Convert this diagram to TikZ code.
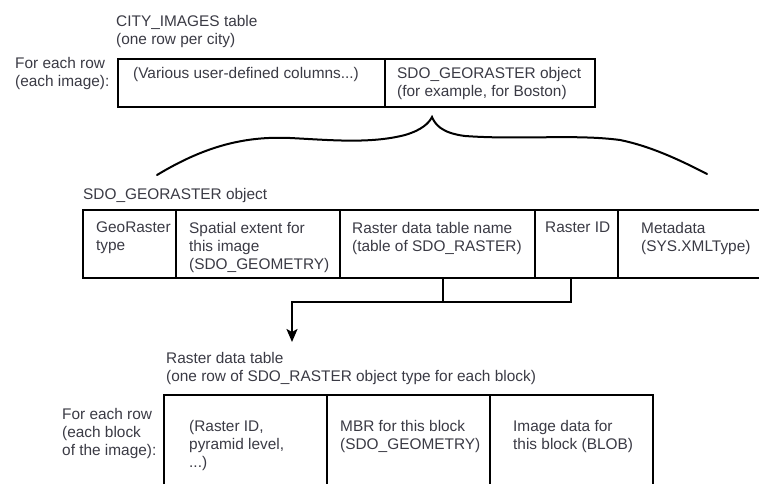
\documentclass[tikz,border=0pt]{standalone}
\usepackage{fontspec}
\setmainfont{Liberation Sans}
\usetikzlibrary{arrows.meta}
\definecolor{txtgray}{RGB}{58,58,68}
\begin{document}
\begin{tikzpicture}[x=1pt,y=-1pt,
  lbl/.style={anchor=north west,inner sep=0pt,align=left,text=txtgray,
    font=\fontsize{15.4}{18}\selectfont},
  tbl/.style={line width=2.8pt,line join=miter},
  wire/.style={line width=2.3pt,line join=miter},
  brace/.style={line width=2pt,line cap=round}]
\useasboundingbox (0,0) rectangle (759,484);

% CITY_IMAGES table
\node[lbl] (citytitle) at (116,15) {CITY\_IMAGES table\\(one row per city)};
\node[lbl] (cityrow) at (15,57) {For each row\\(each image):};
\draw[tbl] (118,59) rectangle (595,107);
\draw[tbl] (385,59) -- (385,107);
\node[lbl] (usercols) at (133,67) {(Various user-defined columns...)};
\node[lbl] (georcol) at (397,67) {SDO\_GEORASTER object\\(for example, for Boston)};

% brace expanding the SDO_GEORASTER column
\coordinate (btip) at (432,117);
\coordinate (bleft) at (157,175);
\coordinate (bright) at (707,174);
\draw[brace] (bleft) .. controls (205,146) and (245,136) .. (290,138)
  .. controls (330,140) and (370,144) .. (405,135)
  .. controls (422,130) and (429,123) .. (btip)
  .. controls (435,124) and (441,133) .. (465,136)
  .. controls (520,140) and (575,134) .. (620,140)
  .. controls (650,146) and (680,160) .. (bright);

% SDO_GEORASTER object
\node[lbl] (geortitle) at (83,188) {SDO\_GEORASTER object};
\draw[tbl] (759,210) -- (83,210) -- (83,278) -- (759,278);
\foreach \x in {176,340,535,618} \draw[tbl] (\x,210) -- (\x,278);
\node[lbl] (grtype) at (96,222) {GeoRaster\\type};
\node[lbl] (extent) at (189,222) {Spatial extent for\\this image\\(SDO\_GEOMETRY)};
\node[lbl] (rdtname) at (352,222) {Raster data table name\\(table of SDO\_RASTER)};
\node[lbl] (rasterid) at (545,222) {Raster ID};
\node[lbl] (meta) at (641,222) {Metadata\\(SYS.XMLType)};

% connector to the raster data table
\coordinate (rnbot) at (443,278);
\coordinate (ridbot) at (571,278);
\coordinate (join) at (443,302);
\coordinate (turn) at (292,302);
\coordinate (arrtip) at (292,342);
\draw[wire] (rnbot) -- (join);
\draw[wire,-{Stealth[length=13pt,width=11pt,inset=3pt]}] (ridbot) |- (turn) -- (arrtip);

% Raster data table
\node[lbl] (rtitle) at (166,352) {Raster data table\\(one row of SDO\_RASTER object type for each block)};
\node[lbl] (blockrow) at (62,408) {For each row\\(each block\\of the image):};
\draw[tbl] (164,484) -- (164,395) -- (653,395) -- (653,484);
\foreach \x in {327,490} \draw[tbl] (\x,395) -- (\x,484);
\node[lbl] (rid) at (189,420) {(Raster ID,\\pyramid level,\\...)};
\node[lbl] (mbr) at (340,420) {MBR for this block\\(SDO\_GEOMETRY)};
\node[lbl] (imgdata) at (513,420) {Image data for\\this block (BLOB)};
\end{tikzpicture}
\end{document}
